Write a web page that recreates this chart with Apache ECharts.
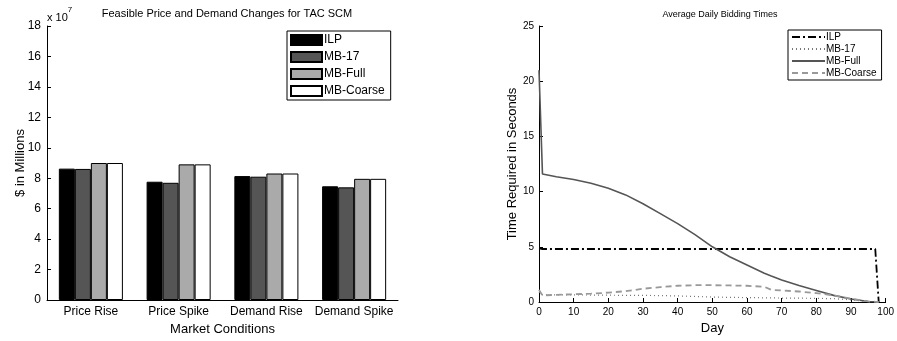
<!DOCTYPE html>
<html>
<head>
<meta charset="utf-8">
<script src="https://cdn.jsdelivr.net/npm/echarts@6/dist/echarts.min.js"></script>
<style>
  html, body { margin: 0; padding: 0; background: #fff; }
  .wrap { width: 897px; height: 341px; position: relative; }
  #barChart { position: absolute; left: 0; top: 0; width: 450px; height: 341px; }
  #lineChart { position: absolute; left: 450px; top: 0; width: 447px; height: 341px; }
</style>
</head>
<body>
<div class="wrap">
  <div id="barChart"></div>
  <div id="lineChart"></div>
</div>
<script>
// left: feasible price (x 10^7)
const conditions = ['Price Rise', 'Price Spike', 'Demand Rise', 'Demand Spike']
const barIlp = [8.63, 7.77, 8.14, 7.47]
const barMb17 = [8.61, 7.70, 8.10, 7.40]
const barMbFull = [9.00, 8.91, 8.31, 7.96]
const barMbCoarse = [9.00, 8.91, 8.31, 7.96]
const barTicks = [0, 18, 2]

// right: bidding times
const days = [0, 1, 5, 10, 15, 20, 25, 30, 35, 40, 45, 50, 55, 60, 65, 67, 70, 75, 80, 85, 90, 95, 97, 98]
const ilp = [4.85, 4.8, 4.8, 4.8, 4.8, 4.8, 4.8, 4.8, 4.8, 4.8, 4.8, 4.8, 4.8, 4.8, 4.8, 4.8, 4.8, 4.8, 4.8, 4.8, 4.8, 4.8, 4.8, 0]
const mb17 = [0.9, 0.65, 0.65, 0.65, 0.63, 0.62, 0.6, 0.6, 0.58, 0.55, 0.5, 0.45, 0.42, 0.4, 0.38, 0.37, 0.36, 0.35, 0.33, 0.3, 0.2, 0.05, 0.02, 0]
const mbFull = [21, 11.6, 11.35, 11.1, 10.75, 10.3, 9.7, 8.9, 8.0, 7.1, 6.1, 5.0, 4.1, 3.35, 2.6, 2.35, 2.0, 1.5, 1.05, 0.6, 0.27, 0.05, 0.02, 0]
const mbCoarse = [1.1, 0.6, 0.65, 0.7, 0.75, 0.85, 0.98, 1.2, 1.35, 1.47, 1.52, 1.52, 1.5, 1.47, 1.38, 1.1, 1.05, 0.95, 0.8, 0.6, 0.3, 0.05, 0.02, 0]
const dayTicks = [0, 100, 10]
const timeTicks = [0, 25, 5]

const font = 'Liberation Sans, Arial, sans-serif'

function pairs (ys) {
  return days.map((d, i) => [d, ys[i]])
}

function barSeries (name, data, color) {
  return {
    name: name,
    type: 'bar',
    data: data,
    barGap: '0%',
    barCategoryGap: '27%',
    itemStyle: { color: color, borderColor: '#000', borderWidth: 1 },
    emphasis: { disabled: true }
  }
}

const barOption = {
  animation: false,
  textStyle: { fontFamily: font },
  title: {
    text: 'Feasible Price and Demand Changes for TAC SCM',
    left: 222, top: 3, textAlign: 'center',
    textStyle: { fontSize: 11, fontWeight: 'normal', color: '#000', fontFamily: font }
  },
  legend: {
    orient: 'vertical',
    left: 287, top: 31,
    backgroundColor: '#fff',
    borderColor: '#000', borderWidth: 1,
    padding: [3, 6, 3, 3],
    icon: 'rect',
    itemWidth: 31, itemHeight: 10, itemGap: 5,
    textStyle: { fontSize: 12, color: '#000', fontFamily: font, padding: [0, 0, 0, -3] },
    data: ['ILP', 'MB-17', 'MB-Full', 'MB-Coarse']
  },
  grid: { left: 47, right: 52, top: 26, bottom: 38 },
  xAxis: {
    type: 'category',
    data: conditions,
    axisLine: { lineStyle: { color: '#000', width: 1 } },
    axisTick: { show: false },
    axisLabel: { color: '#000', fontSize: 12, margin: 6, interval: 0, fontFamily: font },
    name: 'Market Conditions',
    nameLocation: 'middle',
    nameGap: 23,
    nameTextStyle: { color: '#000', fontSize: 13, fontFamily: font }
  },
  yAxis: {
    type: 'value',
    min: barTicks[0], max: barTicks[1], interval: barTicks[2],
    axisLine: { show: true, lineStyle: { color: '#000', width: 1 } },
    axisTick: { show: true, inside: true, length: 4, lineStyle: { color: '#000' } },
    splitLine: { show: false },
    axisLabel: { color: '#000', fontSize: 12, margin: 6, fontFamily: font },
    name: '$ in Millions',
    nameLocation: 'middle',
    nameGap: 20,
    nameMoveOverlap: false,
    nameTextStyle: { color: '#000', fontSize: 13, fontFamily: font }
  },
  graphic: [{
    type: 'text',
    left: 47, top: 6,
    style: {
      text: '{a|x 10}{b|7}',
      rich: {
        a: { fontSize: 11, fontFamily: font, fill: '#000', padding: [6, 0, 0, 0] },
        b: { fontSize: 8, fontFamily: font, fill: '#000', verticalAlign: 'top' }
      }
    }
  }],
  series: [
    barSeries('ILP', barIlp, '#000000'),
    barSeries('MB-17', barMb17, '#555555'),
    barSeries('MB-Full', barMbFull, '#aaaaaa'),
    barSeries('MB-Coarse', barMbCoarse, '#ffffff')
  ]
}

function lineSeries (name, ys, color, type, width) {
  return {
    name: name,
    type: 'line',
    data: pairs(ys),
    symbol: 'none',
    lineStyle: { color: color, type: type, width: width },
    itemStyle: { color: color },
    emphasis: { disabled: true }
  }
}

const lineOption = {
  animation: false,
  textStyle: { fontFamily: font },
  title: {
    text: 'Average Daily Bidding Times',
    left: 265, top: 5, textAlign: 'center',
    textStyle: { fontSize: 9, fontWeight: 'normal', color: '#000', fontFamily: font }
  },
  legend: {
    orient: 'vertical',
    left: 338, top: 30,
    backgroundColor: '#fff',
    borderColor: '#000', borderWidth: 1,
    padding: [2, 5, 2, 3],
    itemWidth: 33, itemHeight: 10, itemGap: 2,
    itemStyle: { opacity: 0 },
    textStyle: { fontSize: 10, color: '#000', fontFamily: font, padding: [0, 0, 0, -4] },
    data: ['ILP', 'MB-17', 'MB-Full', 'MB-Coarse']
  },
  grid: { left: 89, right: 7, top: 26, bottom: 39 },
  xAxis: {
    type: 'value',
    min: dayTicks[0], max: dayTicks[1], interval: dayTicks[2],
    axisLine: { show: true, lineStyle: { color: '#000', width: 1 } },
    axisTick: { show: true, inside: true, length: 4, lineStyle: { color: '#000' } },
    splitLine: { show: false },
    axisLabel: { color: '#000', fontSize: 10, margin: 5, fontFamily: font },
    name: 'Day',
    nameLocation: 'middle',
    nameGap: 20,
    nameTextStyle: { color: '#000', fontSize: 13, fontFamily: font }
  },
  yAxis: {
    type: 'value',
    min: timeTicks[0], max: timeTicks[1], interval: timeTicks[2],
    axisLine: { show: true, lineStyle: { color: '#000', width: 1 } },
    axisTick: { show: true, inside: true, length: 4, lineStyle: { color: '#000' } },
    splitLine: { show: false },
    axisLabel: { color: '#000', fontSize: 10, margin: 5, fontFamily: font },
    name: 'Time Required in Seconds',
    nameLocation: 'middle',
    nameGap: 20,
    nameMoveOverlap: false,
    nameTextStyle: { color: '#000', fontSize: 13, fontFamily: font }
  },
  series: [
    lineSeries('ILP', ilp, '#000000', [8, 3, 2, 3], 1.8),
    lineSeries('MB-17', mb17, '#777777', [1, 3], 1.2),
    lineSeries('MB-Full', mbFull, '#555555', 'solid', 1.6),
    lineSeries('MB-Coarse', mbCoarse, '#999999', [6, 4], 1.8)
  ]
}

const barChart = echarts.init(document.getElementById('barChart'))
barChart.setOption(barOption)
const lineChart = echarts.init(document.getElementById('lineChart'))
lineChart.setOption(lineOption)
</script>
</body>
</html>
